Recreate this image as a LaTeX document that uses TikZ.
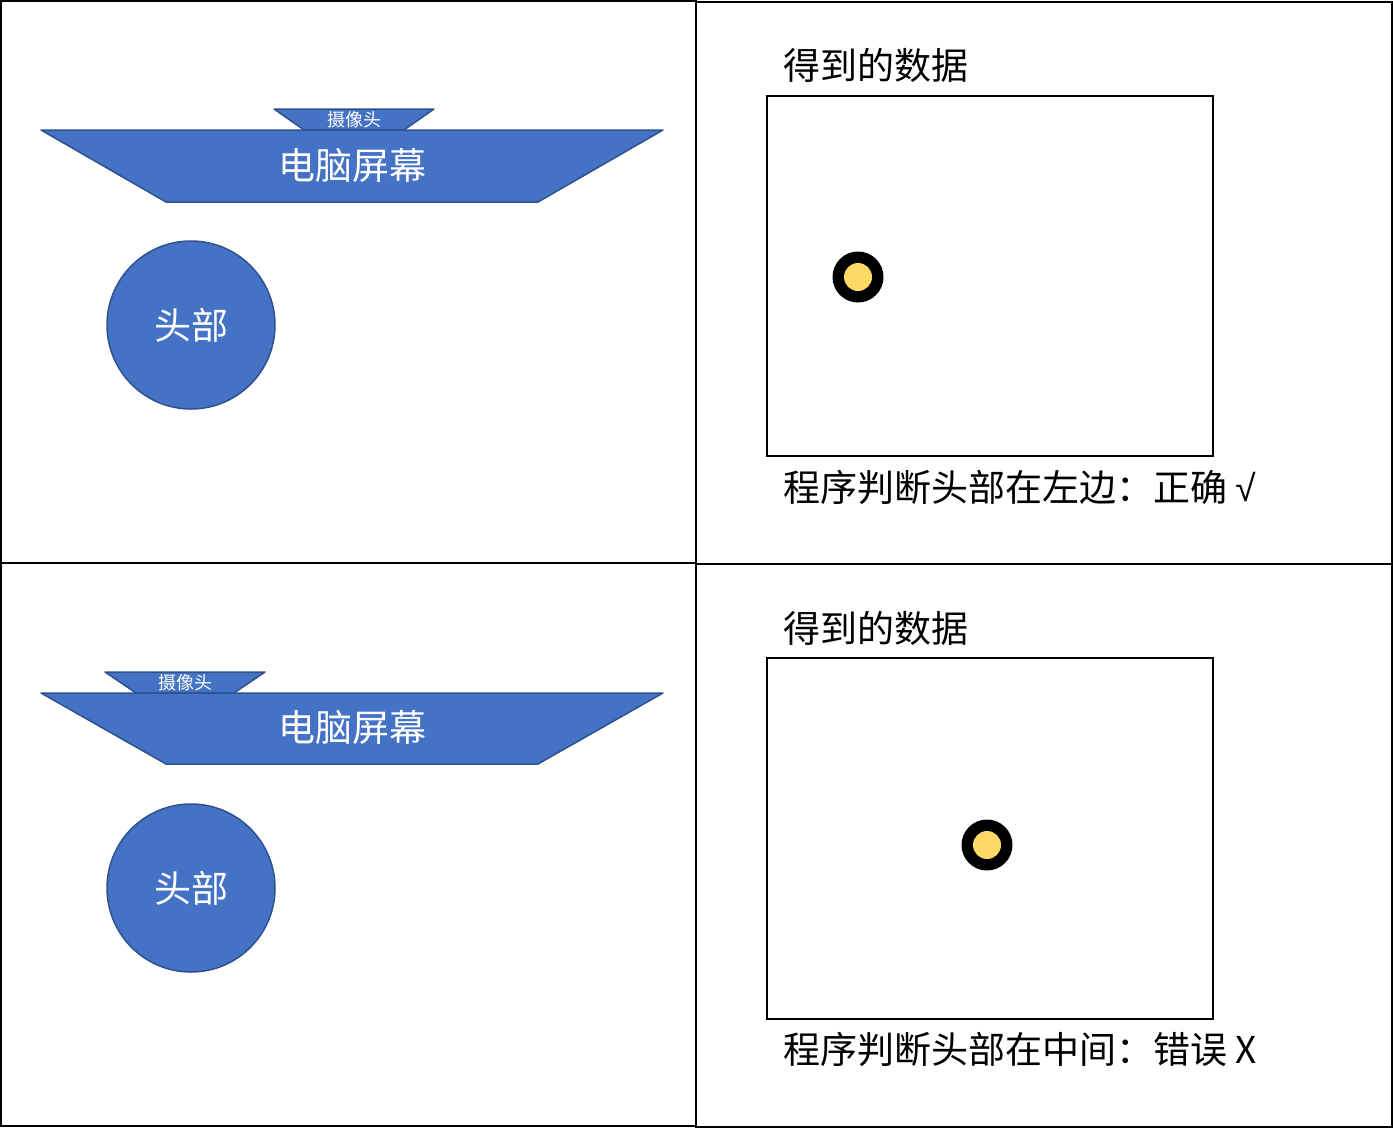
\documentclass[tikz,border=0pt]{standalone}
\usepackage{fontspec}
\setmainfont{Noto Sans CJK SC}
\newfontfamily\checkfont{Liberation Sans}
\usepackage{tikz}
\usetikzlibrary{positioning}

\definecolor{shapeblue}{HTML}{4472C4}
\definecolor{shapeedge}{HTML}{2F528F}
\definecolor{dotyellow}{HTML}{FFD966}

\begin{document}
\begin{tikzpicture}[
            x=1pt, y=-1pt,
            panel/.style={draw=black, line width=2pt},
            blueshape/.style={fill=shapeblue, draw=shapeedge, line width=1.5pt, line join=round},
            head/.style={
                    circle, blueshape, minimum size=168pt, inner sep=0pt,
                    text=white, font=\fontsize{37}{44}\selectfont
                },
            bluetext/.style={text=white, inner sep=0pt, font=\fontsize{37}{44}\selectfont},
            camtext/.style={text=white, inner sep=0pt, font=\fontsize{18}{22}\selectfont},
            caption/.style={anchor=west, inner sep=0pt, font=\fontsize{37}{44}\selectfont},
            frame/.style={draw=black, line width=2pt},
            outerdot/.style={circle, fill=black, minimum size=51pt, inner sep=0pt},
            innerdot/.style={circle, fill=dotyellow, minimum size=28pt, inner sep=0pt}
        ]
        \useasboundingbox (0,0) rectangle (1393,1128);

        % four panels
        \draw[panel] (1,1) rectangle (696,563);
        \draw[panel] (696,2) rectangle (1392,564);
        \draw[panel] (1,563) rectangle (696,1126);
        \draw[panel] (696,564) rectangle (1392,1127);

        % top row: head on the left
        \draw[blueshape] (274,109) -- (434,109) -- (404,130) -- (304,130) -- cycle;
        \node[camtext] (cam1) at (354,120) {摄像头};
        \draw[blueshape] (41,130) -- (663,130) -- (538,202) -- (166,202) -- cycle;
        \node[bluetext] (scr1) at (352,166) {电脑屏幕};
        \node[head] (head1) at (191,325) {头部};

        \node[caption] (data1) at (783,65) {得到的数据};
        \draw[frame] (767,96) rectangle (1213,456);
        \node[outerdot] (dot1) at (858,277) {};
        \node[innerdot] at (dot1) {};
        \node[caption] (res1) at (783,487) {程序判断头部在左边：正确 {\checkfont √}};

        % bottom row: camera moved to the left
        \draw[blueshape] (105,672) -- (265,672) -- (234,693) -- (136,693) -- cycle;
        \node[camtext] (cam2) at (185,683) {摄像头};
        \draw[blueshape] (41,693) -- (663,693) -- (538,764) -- (166,764) -- cycle;
        \node[bluetext] (scr2) at (352,728) {电脑屏幕};
        \node[head] (head2) at (191,888) {头部};

        \node[caption] (data2) at (783,628) {得到的数据};
        \draw[frame] (767,658) rectangle (1213,1019);
        \node[outerdot] (dot2) at (987,845) {};
        \node[innerdot] at (dot2) {};
        \node[caption] (res2) at (783,1049) {程序判断头部在中间：错误 X};
    \end{tikzpicture}
\end{document}
